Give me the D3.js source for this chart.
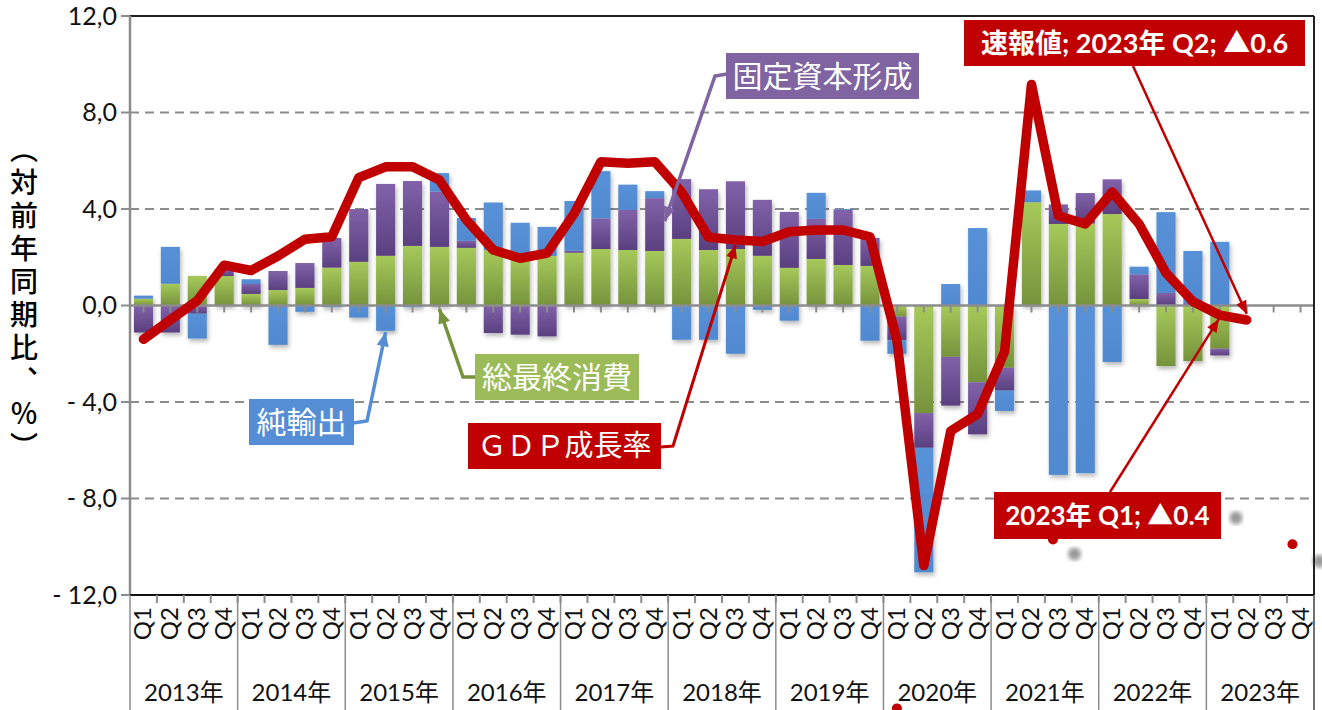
<!DOCTYPE html>
<html>
<head>
<meta charset="utf-8">
<script src="https://cdn.jsdelivr.net/npm/d3@7"></script>
<style>
  body { margin: 0; background: #fff; }
  svg { display: block; font-family: "Lato", "Noto Sans CJK JP", sans-serif; }
</style>
</head>
<body>
<svg id="chart" width="1322" height="710"></svg>
<script>
// year / quarter labels
const years = ["2013年", "2014年", "2015年", "2016年", "2017年", "2018年",
  "2019年", "2020年", "2021年", "2022年", "2023年"];
const quarters = ["Q1", "Q2", "Q3", "Q4"];

// contributions (percentage points), 2013Q1 .. 2023Q1
const consumption = [0.28, 0.9, 1.23, 1.22, 0.48, 0.64, 0.73, 1.57, 1.81, 2.06,
  2.47, 2.43, 2.39, 2.3, 2.0, 2.05, 2.19, 2.34, 2.3, 2.26,
  2.76, 2.3, 2.34, 2.06, 1.56, 1.93, 1.68, 1.64, -0.46, -4.46,
  -2.13, -3.18, -2.58, 4.28, 3.38, 3.4, 3.79, 0.27, -2.51, -2.3, -1.79];
const capital = [-1.12, -1.12, -0.34, 0.28, 0.41, 0.79, 1.03, 1.23, 2.19, 2.98,
  2.69, 2.29, 0.29, -1.14, -1.21, -1.28, 0.08, 1.27, 1.66, 2.19,
  2.48, 2.52, 2.81, 2.32, 2.32, 1.66, 2.28, 1.16, -0.98, -1.44,
  -2.02, -2.16, -0.95, 0, 0.81, 1.26, 1.44, 1.02, 0.52, 0.1, -0.28];
const netExports = [0.13, 1.53, -1.03, 0, 0.2, -1.63, -0.26, -0.07, -0.5, -1.05,
  -0.07, 0.77, 0.95, 1.97, 1.43, 1.21, 2.06, 1.96, 1.05, 0.29,
  -1.42, -1.42, -2.0, -0.18, -0.63, 1.08, 0.04, -1.46, -0.56, -5.16,
  0.89, 3.21, -0.84, 0.49, -7.02, -6.95, -2.34, 0.32, 3.35, 2.16, 2.64];

// GDP growth rate (y/y %), 2013Q1 .. 2023Q2
const gdp = [-1.4, -0.6, 0.2, 1.67, 1.45, 2.05, 2.75, 2.85, 5.3, 5.75,
  5.75, 5.2, 3.55, 2.3, 1.96, 2.17, 3.8, 5.96, 5.9, 5.96,
  4.7, 2.83, 2.72, 2.65, 3.06, 3.13, 3.13, 2.85, -1.44, -10.78,
  -5.2, -4.5, -1.92, 9.16, 3.72, 3.38, 4.7, 3.38, 1.35, 0.17,
  -0.4, -0.6];

const yTicks = [-12, -8, -4, 0, 4, 8, 12];

// stray markers left in the picture [quarter index, value]
const strayRed = [[33.8, -9.7], [42.7, -9.9], [28.0, -16.7]];
const strayGray = [[34.6, -10.3], [40.6, -8.8], [43.7, -10.6]];

const svg = d3.select("#chart");
const plotLeft = 130, plotRight = 1314, plotTop = 16, plotBottom = 595;

const periods = years.flatMap(yr => quarters.map(q => q + " " + yr));
const x = d3.scaleBand()
  .domain(d3.range(periods.length))
  .range([plotLeft, plotRight])
  .paddingInner(0.29)
  .paddingOuter(0.145);
const y = d3.scaleLinear().domain([-12, 12]).range([plotBottom, plotTop]);
const step = x.step();
const cx = i => plotLeft + step * (i + 0.5);

// gradients + shadow
const defs = svg.append("defs");
function grad(id, c1, c2) {
  const g = defs.append("linearGradient").attr("id", id)
    .attr("x1", 0).attr("y1", 0).attr("x2", 0).attr("y2", 1);
  g.append("stop").attr("offset", "0%").attr("stop-color", c1);
  g.append("stop").attr("offset", "100%").attr("stop-color", c2);
}
grad("gGreen", "#a6c95a", "#76933c");
grad("gPurple", "#8162a9", "#5a4080");
grad("gBlue", "#5891d8", "#5089d0");
const sh = defs.append("filter").attr("id", "shadow")
  .attr("x", "-30%").attr("y", "-30%").attr("width", "160%").attr("height", "160%");
sh.append("feDropShadow").attr("dx", 1.5).attr("dy", 3).attr("stdDeviation", 2)
  .attr("flood-color", "#000").attr("flood-opacity", 0.28);
defs.append("filter").attr("id", "blur")
  .append("feGaussianBlur").attr("stdDeviation", 2);

// gridlines
svg.append("g").selectAll("line")
  .data(yTicks.filter(v => v !== 0 && v !== 12 && v !== -12))
  .join("line")
  .attr("x1", plotLeft).attr("x2", plotRight)
  .attr("y1", d => y(d)).attr("y2", d => y(d))
  .attr("stroke", "#8c8c8c").attr("stroke-width", 2)
  .attr("stroke-dasharray", "9,6");

// stacked bars
const rows = consumption.map((c, i) => ({
  i, consumption: c, capital: capital[i], netExports: netExports[i]
}));
const keys = ["consumption", "capital", "netExports"];
const fills = { consumption: "url(#gGreen)", capital: "url(#gPurple)", netExports: "url(#gBlue)" };
const series = d3.stack().keys(keys).offset(d3.stackOffsetDiverging)(rows);

svg.append("g").attr("filter", "url(#shadow)")
  .selectAll("g").data(series).join("g")
  .attr("fill", s => fills[s.key])
  .selectAll("rect").data(s => s.filter(d => d[1] !== d[0])).join("rect")
  .attr("x", d => x(d.data.i))
  .attr("width", x.bandwidth())
  .attr("y", d => y(Math.max(d[0], d[1])))
  .attr("height", d => Math.abs(y(d[0]) - y(d[1])));

// zero line with small ticks
svg.append("line")
  .attr("x1", plotLeft).attr("x2", plotRight).attr("y1", y(0)).attr("y2", y(0))
  .attr("stroke", "#8c8c8c").attr("stroke-width", 2.5);
svg.append("g").selectAll("line").data(d3.range(periods.length)).join("line")
  .attr("x1", d => cx(d)).attr("x2", d => cx(d))
  .attr("y1", y(0)).attr("y2", y(0) + 7)
  .attr("stroke", "#8c8c8c").attr("stroke-width", 2);

// stray markers
svg.append("g").selectAll("circle").data(strayGray).join("circle")
  .attr("cx", d => cx(d[0])).attr("cy", d => y(d[1])).attr("r", 6.5)
  .attr("fill", "#999").attr("filter", "url(#blur)");
svg.append("g").selectAll("circle").data(strayRed).join("circle")
  .attr("cx", d => cx(d[0])).attr("cy", d => y(d[1])).attr("r", 5)
  .attr("fill", "#c00000");

// GDP line
svg.append("path")
  .datum(gdp)
  .attr("fill", "none")
  .attr("stroke", "#c00000")
  .attr("stroke-width", 9.5)
  .attr("stroke-linejoin", "round")
  .attr("stroke-linecap", "round")
  .attr("d", d3.line().x((d, i) => cx(i)).y(d => y(d)));

// frame
svg.append("line").attr("x1", plotLeft).attr("x2", plotRight).attr("y1", plotTop).attr("y2", plotTop)
  .attr("stroke", "#222").attr("stroke-width", 2);
svg.append("line").attr("x1", plotRight).attr("x2", plotRight).attr("y1", plotTop).attr("y2", 710)
  .attr("stroke", "#222").attr("stroke-width", 2);

// y axis
const yAxis = svg.append("g");
yAxis.append("line").attr("x1", plotLeft).attr("x2", plotLeft).attr("y1", plotTop).attr("y2", plotBottom)
  .attr("stroke", "#8c8c8c").attr("stroke-width", 2.5);
yAxis.selectAll(".tk").data(yTicks).join("line")
  .attr("x1", plotLeft - 9).attr("x2", plotLeft)
  .attr("y1", d => y(d)).attr("y2", d => y(d))
  .attr("stroke", "#8c8c8c").attr("stroke-width", 2);
const fmt = v => (v < 0 ? "- " : "") + Math.abs(v).toFixed(1).replace(".", ",");
yAxis.selectAll("text").data(yTicks).join("text")
  .attr("x", 117).attr("y", d => y(d)).attr("dy", "0.35em")
  .attr("text-anchor", "end").attr("font-size", 25).attr("fill", "#111")
  .text(fmt);

svg.append("text")
  .attr("x", 24).attr("y", 300)
  .attr("text-anchor", "middle")
  .style("writing-mode", "vertical-rl")
  .attr("font-family", "Noto Sans CJK JP")
  .attr("font-size", 28).attr("font-weight", 500).attr("letter-spacing", 5).attr("fill", "#000")
  .text("（対前年同期比、％）");

// x axis
svg.append("line").attr("x1", plotLeft).attr("x2", plotRight).attr("y1", plotBottom).attr("y2", plotBottom)
  .attr("stroke", "#111").attr("stroke-width", 2);
svg.append("g").selectAll("line").data(d3.range(1, periods.length)).join("line")
  .attr("x1", d => plotLeft + step * d).attr("x2", d => plotLeft + step * d)
  .attr("y1", plotBottom).attr("y2", plotBottom + 8)
  .attr("stroke", "#8c8c8c").attr("stroke-width", 2);
svg.append("g").selectAll("line").data(d3.range(0, years.length + 1)).join("line")
  .attr("x1", d => plotLeft + step * 4 * d).attr("x2", d => plotLeft + step * 4 * d)
  .attr("y1", plotBottom).attr("y2", 710)
  .attr("stroke", "#8c8c8c").attr("stroke-width", 1.5);
svg.append("g").selectAll("text").data(periods).join("text")
  .attr("transform", (d, i) => `translate(${cx(i) + 8},${plotBottom + 12}) rotate(-90)`)
  .attr("text-anchor", "end")
  .attr("font-size", 24).attr("fill", "#111")
  .text(d => d.split(" ")[0]);
svg.append("g").selectAll("text").data(years).join("text")
  .attr("x", (d, i) => plotLeft + step * (4 * i + 2))
  .attr("y", 701)
  .attr("text-anchor", "middle")
  .attr("font-size", 24).attr("fill", "#111")
  .text(d => d);

// annotations
function arrow(points, color, width, head) {
  svg.append("path")
    .attr("d", d3.line()(points))
    .attr("fill", "none").attr("stroke", color).attr("stroke-width", width)
    .attr("stroke-linejoin", "miter");
  const [p0, p1] = points.slice(-2);
  const a = Math.atan2(p1[1] - p0[1], p1[0] - p0[0]);
  const L = head * 1.3, Wd = head * 0.55;
  const bx = p1[0] - L * Math.cos(a), by = p1[1] - L * Math.sin(a);
  svg.append("path")
    .attr("d", d3.line()([
      p1,
      [bx + Wd * Math.sin(a), by - Wd * Math.cos(a)],
      [bx - Wd * Math.sin(a), by + Wd * Math.cos(a)]
    ]) + "Z")
    .attr("fill", color);
}
function box(x0, y0, w, h, fill, label, size, weight, family) {
  svg.append("rect").attr("x", x0).attr("y", y0).attr("width", w).attr("height", h)
    .attr("fill", fill);
  svg.append("text")
    .attr("x", x0 + w / 2).attr("y", y0 + h / 2).attr("dy", "0.36em")
    .attr("text-anchor", "middle")
    .attr("font-family", family || "Noto Sans CJK JP")
    .attr("font-size", size).attr("font-weight", weight || 400)
    .attr("fill", "#fff")
    .text(label);
}

// 固定資本形成
arrow([[727, 74], [715, 76], [cx(19) + 10, y(3.5)]], "#8064a2", 3.5, 11);
box(726, 53, 193, 46, "#8064a2", "固定資本形成", 30);
// 総最終消費
arrow([[475, 377], [463, 377], [cx(11), y(-0.15)]], "#76923c", 3.5, 11);
box(475, 354, 164, 46, "#9bbb59", "総最終消費", 30);
// 純輸出
arrow([[353, 423], [367, 421], [cx(9), y(-1.1)]], "#558ed5", 3.5, 11);
box(249, 399, 105, 46, "#558ed5", "純輸出", 30);
// GDP成長率
arrow([[661, 447], [673, 446], [cx(22), y(2.5)]], "#c00000", 3, 10);
box(468, 423, 193, 46, "#c00000", "ＧＤＰ成長率", 29);
// preliminary Q2
arrow([[1133, 66], [cx(41), y(gdp[41]) - 6]], "#c00000", 2.5, 10);
box(964, 20, 341, 46, "#c00000", "速報値; 2023年 Q2; ▲0.6", 27, 700, "Lato, 'Noto Sans CJK JP'");
// Q1
arrow([[1110, 492], [cx(40) - 1, y(gdp[40]) + 4]], "#c00000", 2.5, 10);
box(994, 492, 227, 47, "#c00000", "2023年 Q1; ▲0.4", 26, 700, "Lato, 'Noto Sans CJK JP'");
</script>
</body>
</html>
